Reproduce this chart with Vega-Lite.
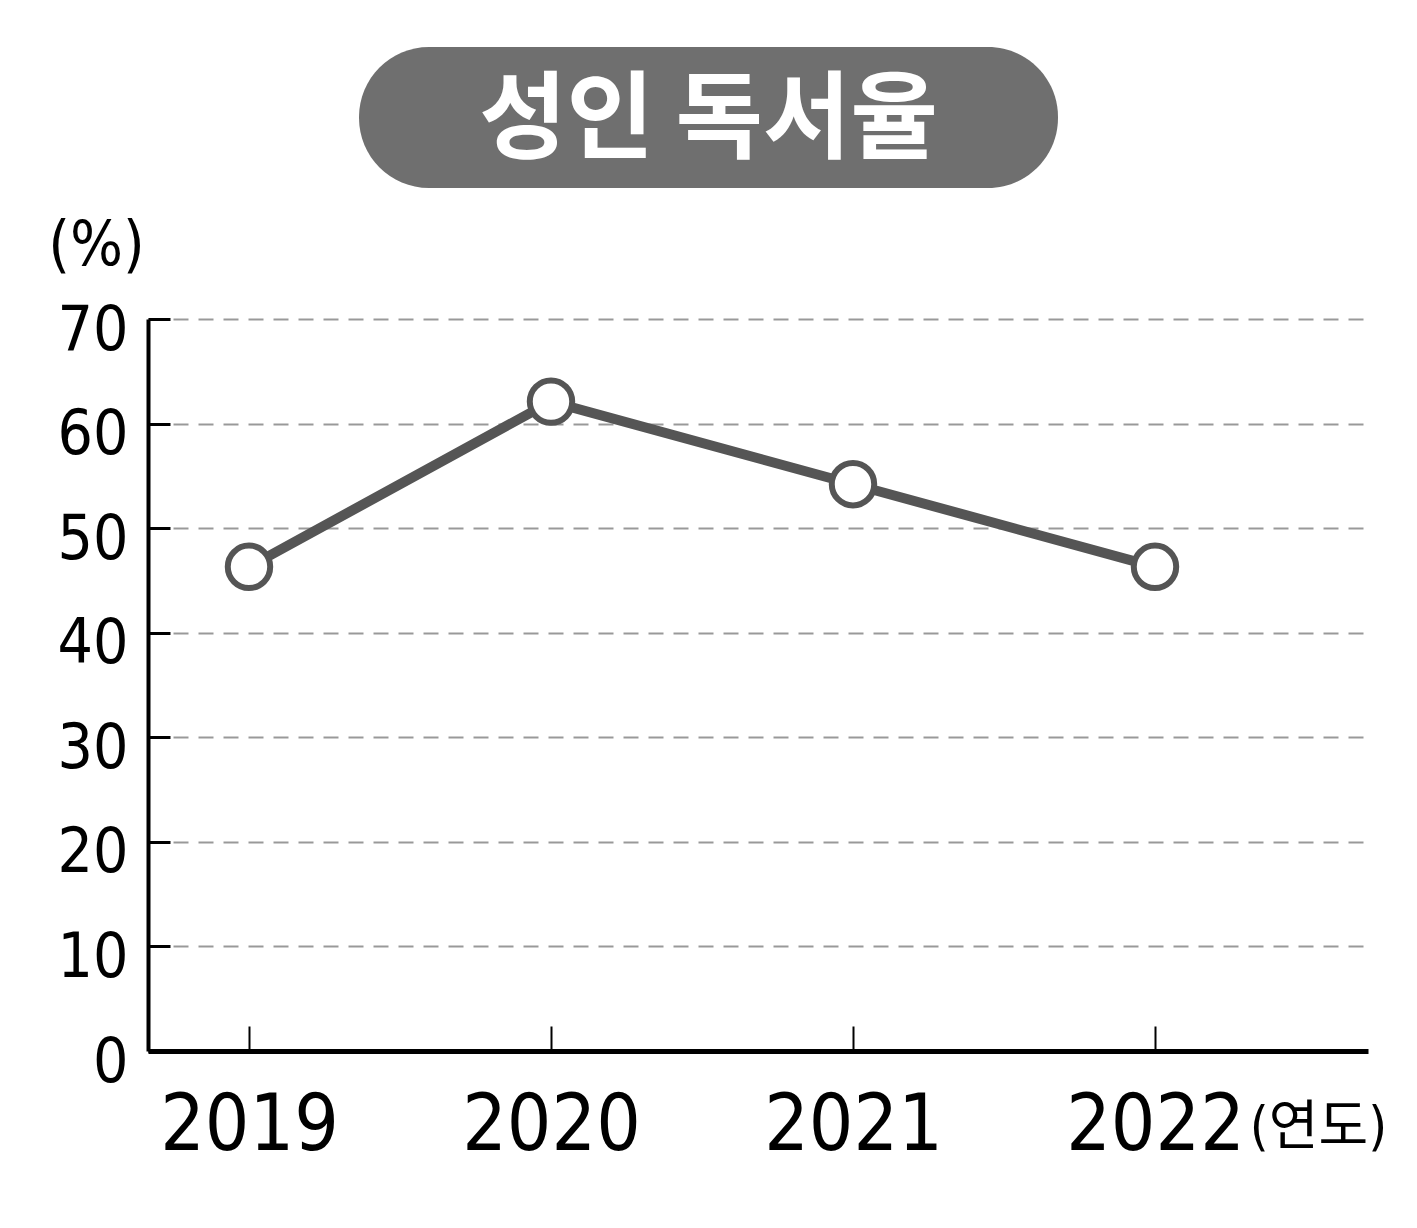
{
  "$schema": "https://vega.github.io/schema/vega-lite/v6.json",
  "description": "성인 독서율 line chart",
  "background": "white",
  "padding": {"top": 47, "left": 47, "right": 20, "bottom": 20},
  "config": {
    "font": "DejaVu Sans Condensed, Liberation Sans",
    "concat": {"spacing": 26}
  },
  "center": false,
  "vconcat": [
    {
      "spacing": 0,
      "hconcat": [
        {
          "width": 211,
          "height": 141,
          "view": {"stroke": null},
          "data": {"values": []},
          "mark": "text"
        },
        {
          "width": 699,
          "height": 141,
          "view": {"fill": "#6f6f6f", "stroke": null, "cornerRadius": 70},
          "data": {"values": [{"title": "성인 독서율"}]},
          "mark": {
            "type": "text",
            "font": "Noto Sans CJK KR",
            "fontWeight": "bold",
            "fontSize": 95,
            "color": "white",
            "baseline": "middle",
            "align": "center",
            "dy": 4
          },
          "encoding": {"text": {"field": "title", "type": "nominal"}}
        }
      ]
    },
    {
      "width": 1220,
      "height": 732,
      "view": {"stroke": null},
      "data": {
        "values": [
          {"year": 2019, "rate": 46.3},
          {"year": 2020, "rate": 62.1},
          {"year": 2021, "rate": 54.2},
          {"year": 2022, "rate": 46.3}
        ]
      },
      "encoding": {
        "x": {
          "field": "year",
          "type": "quantitative",
          "scale": {"domain": [2018.6656, 2022.7053], "nice": false, "zero": false},
          "axis": {
            "values": [2019, 2020, 2021, 2022],
            "format": "d",
            "grid": false,
            "domainColor": "black",
            "domainWidth": 5,
            "tickColor": "black",
            "tickWidth": 2,
            "tickSize": -25,
            "labelFontSize": 78,
            "labelColor": "black",
            "labelBaseline": "alphabetic",
            "labelPadding": 123,
            "labelLimit": 500,
            "labelFlush": false,
            "labelOverlap": false,
            "title": "(연도)",
            "titleFont": "DejaVu Sans Condensed, Liberation Sans, Noto Sans CJK KR",
            "titleFontSize": 54,
            "titleFontWeight": "normal",
            "titleColor": "black",
            "titleAlign": "center",
            "titleBaseline": "alphabetic",
            "titleX": 1170,
            "titleY": 93
          }
        },
        "y": {
          "field": "rate",
          "type": "quantitative",
          "scale": {"domain": [0, 70], "nice": false},
          "axis": {
            "values": [0, 10, 20, 30, 40, 50, 60, 70],
            "grid": true,
            "gridColor": "#999999",
            "gridWidth": 2,
            "gridDash": [15, 10],
            "domainColor": "black",
            "domainWidth": 4,
            "tickColor": "black",
            "tickWidth": 3,
            "tickSize": -22,
            "labelFontSize": 62,
            "labelColor": "black",
            "labelBaseline": "alphabetic",
            "labelOffset": 30,
            "labelPadding": 42,
            "labelLimit": 300,
            "labelOverlap": false,
            "title": "(%)",
            "titleAngle": 0,
            "titleFontSize": 62,
            "titleFontWeight": "normal",
            "titleColor": "black",
            "titleAlign": "center",
            "titleBaseline": "alphabetic",
            "titleX": -52,
            "titleY": -55
          }
        }
      },
      "layer": [
        {
          "mark": {"type": "line", "color": "#555555", "strokeWidth": 10}
        },
        {
          "mark": {
            "type": "point",
            "shape": "circle",
            "filled": true,
            "fill": "white",
            "stroke": "#555555",
            "strokeWidth": 6,
            "size": 1800,
            "opacity": 1
          }
        }
      ]
    }
  ]
}
